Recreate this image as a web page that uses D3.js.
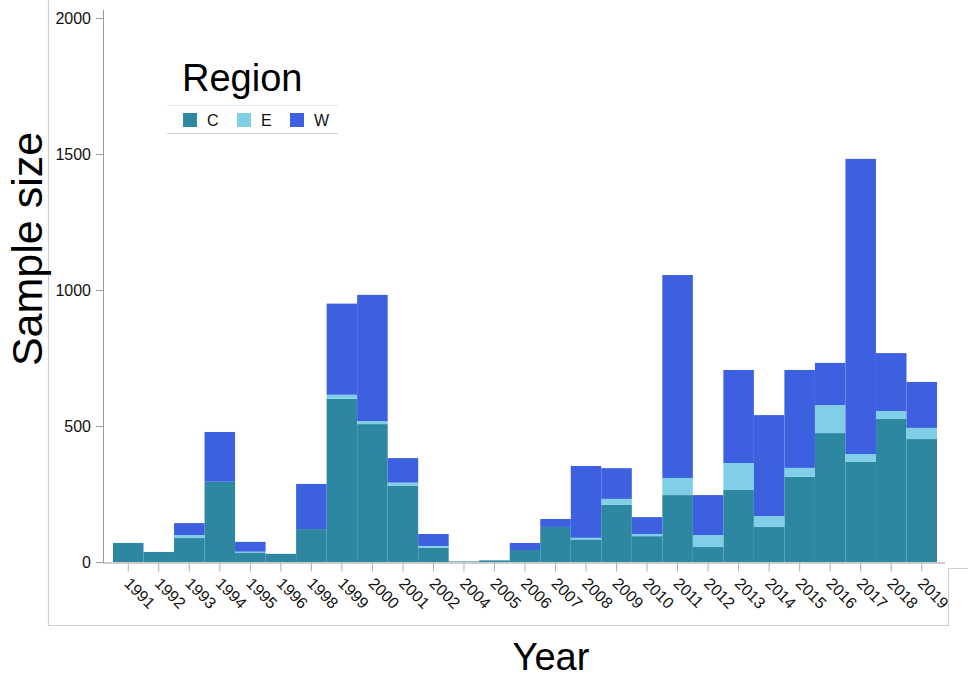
<!DOCTYPE html>
<html>
<head>
<meta charset="utf-8">
<script src="https://cdn.jsdelivr.net/npm/d3@7"></script>
<style>
  html, body { margin: 0; padding: 0; background: #fff; }
  svg { display: block; font-family: "Liberation Sans", Arial, sans-serif; }
</style>
</head>
<body>
<svg id="chart" width="968" height="679"></svg>
<script>
const years = ["1991","1992","1993","1994","1995","1996","1998","1999","2000","2001","2002","2004","2005","2006","2007","2008","2009","2010","2011","2012","2013","2014","2015","2016","2017","2018","2019"];
const valuesC = [70,37,88,295,35,30,121,600,507,280,53,2,6,44,129,81,210,95,246,55,265,129,313,474,368,526,452];
const valuesE = [0,0,11,0,3,0,0,15,11,12,6,0,0,0,0,8,22,8,63,44,99,40,33,103,29,29,41];
const valuesW = [0,0,44,183,36,0,166,335,464,90,44,0,0,26,29,264,113,62,746,147,342,371,360,155,1085,213,169];
const regions = ["C","E","W"];
const yTicks = [0,500,1000,1500,2000];
const colors = {C: "#2d87a1", E: "#80cfe6", W: "#3c60e0"};

const svg = d3.select("#chart");

const rows = years.map((y, i) => ({year: y, C: valuesC[i], E: valuesE[i], W: valuesW[i]}));
const stack = d3.stack().keys(regions)(rows);

const x = d3.scaleBand().domain(years).range([113, 937]).padding(0);
const y = d3.scaleLinear().domain([0, 2000]).range([562, 18]);

// frame lines
const frame = svg.append("g").attr("stroke", "#cfcfcf").attr("stroke-width", 1.2).attr("fill", "none");
frame.append("path").attr("d", "M48.5,0 V625.5 H948.5 V568.5 H968");

// bars
svg.append("g").selectAll("g").data(stack).join("g")
  .attr("fill", d => colors[d.key])
  .selectAll("rect").data(d => d).join("rect")
  .attr("x", d => x(d.data.year))
  .attr("width", x.bandwidth())
  .attr("y", d => y(d[1]))
  .attr("height", d => y(d[0]) - y(d[1]));

// y axis
const yAxis = svg.append("g").attr("transform", "translate(103,0)")
  .call(d3.axisLeft(y).tickValues(yTicks).tickSize(7).tickPadding(5).tickFormat(d3.format("d")));
yAxis.select(".domain").attr("stroke", "#9a9a9a").attr("d", "M0.5,10V562.5");
yAxis.selectAll(".tick line").attr("stroke", "#9a9a9a");
yAxis.selectAll(".tick text").attr("font-size", 16).attr("fill", "#111").attr("font-family", "Liberation Sans, Arial, sans-serif");

// x axis
const xAxis = svg.append("g").attr("transform", "translate(0,562.5)")
  .call(d3.axisBottom(x).tickSize(9).tickSizeOuter(0));
xAxis.select(".domain").attr("stroke", "#9a9a9a").attr("d", "M103,0.5H945");
xAxis.selectAll(".tick line").attr("stroke", "#b0b0b0");
xAxis.selectAll(".tick text")
  .attr("font-size", 16).attr("fill", "#111").attr("font-family", "Liberation Sans, Arial, sans-serif")
  .attr("text-anchor", "start").attr("dy", null)
  .attr("transform", "translate(-5,22) rotate(45)")
  .attr("y", 0).attr("x", 0);

// axis titles
svg.append("text").attr("x", 551).attr("y", 670).attr("text-anchor", "middle")
  .attr("font-size", 38).attr("fill", "#000").text("Year");
svg.append("text").attr("transform", "translate(42,249) rotate(-90)").attr("text-anchor", "middle")
  .attr("font-size", 43).attr("fill", "#000").text("Sample size");

// legend
const lg = svg.append("g");
lg.append("text").attr("x", 182).attr("y", 91).attr("font-size", 38).attr("fill", "#000").text("Region");
lg.append("line").attr("x1", 167).attr("x2", 338).attr("y1", 105.5).attr("y2", 105.5).attr("stroke", "#e6e6e6");
lg.append("line").attr("x1", 167).attr("x2", 338).attr("y1", 133.5).attr("y2", 133.5).attr("stroke", "#cfcfcf");
const legX = [183, 237, 290];
regions.forEach((r, i) => {
  lg.append("rect").attr("x", legX[i]).attr("y", 113).attr("width", 14).attr("height", 14).attr("fill", colors[r]);
  lg.append("text").attr("x", legX[i] + 24).attr("y", 126).attr("font-size", 16).attr("fill", "#111").text(r);
});
</script>
</body>
</html>
